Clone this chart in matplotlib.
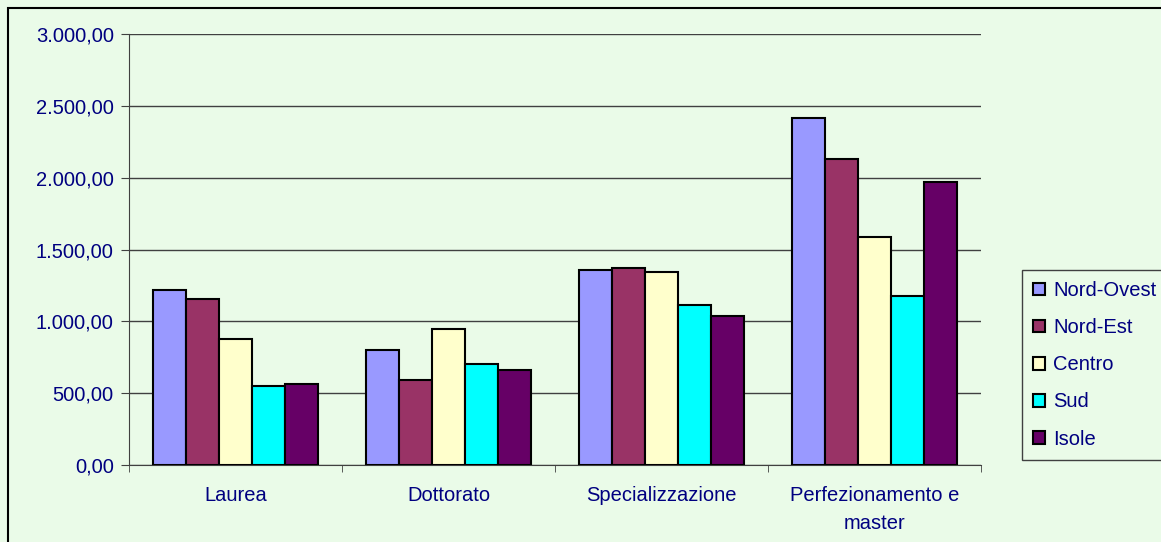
import matplotlib
matplotlib.use("Agg")
import matplotlib.pyplot as plt
import matplotlib.patches as mpatches
import numpy as np

categorie = ["Laurea", "Dottorato", "Specializzazione", "Perfezionamento e\nmaster"]
regioni = ["Nord-Ovest", "Nord-Est", "Centro", "Sud", "Isole"]
valori = {
    "Nord-Ovest": [1218, 800, 1357, 2415],
    "Nord-Est": [1155, 592, 1371, 2129],
    "Centro": [877, 945, 1343, 1587],
    "Sud": [550, 703, 1113, 1176],
    "Isole": [564, 661, 1037, 1969],
}
colori = ["#9999ff", "#993366", "#ffffcc", "#00ffff", "#660066"]

plt.rcParams["font.family"] = ["Liberation Sans", "DejaVu Sans"]
testo = "#000080"
sfondo = "#eafbe8"
fs = 14.5

W, H = 1161, 542
fig = plt.figure(figsize=(W / 100, H / 100), dpi=100, facecolor=sfondo)
ax = fig.add_axes([129 / W, 1 - 465 / H, 852 / W, 431 / H])
ax.set_facecolor(sfondo)

x = np.arange(len(categorie))
w = 0.154
for i, (reg, col) in enumerate(zip(regioni, colori)):
    ax.bar(x + (i - 2) * w, valori[reg], w, color=col, edgecolor="black",
           linewidth=1.5, label=reg, zorder=3)

ax.set_xlim(-0.5, len(categorie) - 0.5)
ax.set_ylim(0, 3000)
ax.set_yticks(np.arange(0, 3001, 500))
ax.set_yticklabels([f"{v:,.2f}".replace(",", "X").replace(".", ",").replace("X", ".")
                    for v in np.arange(0, 3001, 500)])
ax.yaxis.grid(True, color="#404040", linewidth=1, zorder=1)
ax.set_xticks(x)
ax.set_xticklabels(categorie, color=testo, fontsize=fs, linespacing=1.6)
ax.set_xticks(np.arange(-0.5, len(categorie)), minor=True)
ax.tick_params(axis="x", which="major", length=0, pad=15)
ax.tick_params(axis="x", which="minor", length=5, color="#404040")
ax.tick_params(axis="y", length=6, color="#404040", labelcolor=testo, labelsize=fs, pad=5)
for s in ["top", "right"]:
    ax.spines[s].set_visible(False)
ax.spines["left"].set_color("#404040")
ax.spines["bottom"].set_color("#404040")

leg = fig.legend(loc="upper left", bbox_to_anchor=(1022 / W, 1 - 270 / H),
                 fontsize=fs, frameon=True, fancybox=False, labelcolor=testo,
                 handlelength=0.6, handleheight=0.6, handletextpad=0.4,
                 labelspacing=0.9, borderpad=0.55, borderaxespad=0)
leg.get_frame().set_facecolor(sfondo)
leg.get_frame().set_edgecolor("#404040")
leg.get_frame().set_alpha(1)

fig.patches.append(mpatches.Rectangle((8 / W, -0.1), 1.2, 1 - 8 / H + 0.1,
                                      transform=fig.transFigure, fill=False,
                                      edgecolor="black", linewidth=1.5))

fig.savefig("out.png", dpi=100, facecolor=sfondo)
